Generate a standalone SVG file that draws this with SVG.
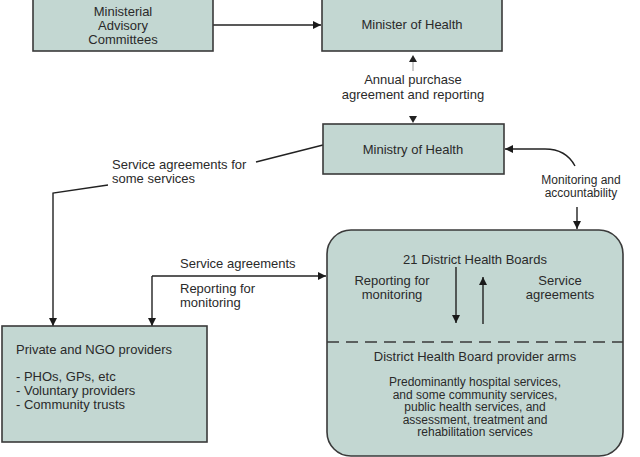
<svg xmlns="http://www.w3.org/2000/svg" width="640" height="457" viewBox="0 0 640 457">
<style>
.box{fill:#c3d7d2;stroke:#3a3a3a;stroke-width:1.6}
.t{font-family:"Liberation Sans",Arial,sans-serif;font-size:13px;fill:#2a2a2a}
.s{font-size:12px}
.c{text-anchor:middle}
.ln{fill:none;stroke:#222;stroke-width:1.4}
.lg{fill:none;stroke:#aaa;stroke-width:1.2}
</style>
<defs>
<marker id="ah" viewBox="0 0 10 10" refX="10" refY="5" markerWidth="8" markerHeight="8" markerUnits="userSpaceOnUse" orient="auto">
<path d="M0,0 L10,5 L0,10 z" fill="#1a1a1a"/>
</marker>
</defs>
<rect width="640" height="457" fill="#fff"/>
<g id="connectors">
<line class="ln" x1="213" y1="25" x2="321" y2="25" marker-end="url(#ah)"/>
<line class="lg" x1="413" y1="71" x2="413" y2="60"/>
<path d="M409,62 L413,55 L417,62 z" fill="#222"/>
<path d="M409,116 L413,123 L417,116 z" fill="#222"/>
<polyline class="ln" points="323,145 256,162"/>
<polyline class="ln" points="108,185 53,193 53,326" marker-end="url(#ah)"/>
<path class="ln" d="M575,166 Q566,149 545,149 L505,149" marker-end="url(#ah)"/>
<line class="ln" x1="577" y1="207" x2="577" y2="229" marker-end="url(#ah)"/>
<polyline class="ln" points="152,276 326,276" marker-end="url(#ah)"/>
<line class="ln" x1="152" y1="276" x2="152" y2="326" marker-end="url(#ah)"/>
<text class="t c" x="413" y="84">Annual purchase</text>
<text class="t c" x="413" y="99">agreement and reporting</text>
<text class="t" x="112" y="169">Service agreements for</text>
<text class="t" x="112" y="183">some services</text>
<text class="t s c" x="581" y="184">Monitoring and</text>
<text class="t s c" x="581" y="197">accountability</text>
<text class="t" x="180" y="268">Service agreements</text>
<text class="t" x="180" y="293">Reporting for</text>
<text class="t" x="180" y="307">monitoring</text>
</g>
<g id="ministerial">
<rect class="box" x="33" y="-2" width="180" height="53"/>
<text class="t c" x="123" y="16">Ministerial</text>
<text class="t c" x="123" y="30">Advisory</text>
<text class="t c" x="123" y="44">Committees</text>
</g>
<g id="minister">
<rect class="box" x="322" y="-2" width="180" height="53"/>
<text class="t c" x="412" y="29">Minister of Health</text>
</g>
<g id="ministry">
<rect class="box" x="323" y="124" width="181" height="50"/>
<text class="t c" x="413" y="154">Ministry of Health</text>
</g>
<g id="private">
<rect class="box" x="2" y="326" width="205" height="116"/>
<text class="t" x="16" y="354">Private and NGO providers</text>
<text class="t" x="16" y="381">- PHOs, GPs, etc</text>
<text class="t" x="16" y="395">- Voluntary providers</text>
<text class="t" x="16" y="409">- Community trusts</text>
</g>
<g id="dhb">
<rect class="box" x="327" y="230" width="296" height="226" rx="24" ry="24"/>
<line x1="327" y1="342" x2="623" y2="342" stroke="#3a3a3a" stroke-width="1.4" stroke-dasharray="12,7"/>
<text class="t c" x="475" y="264">21 District Health Boards</text>
<text class="t c" x="392" y="285">Reporting for</text>
<text class="t c" x="392" y="299">monitoring</text>
<text class="t c" x="560" y="285">Service</text>
<text class="t c" x="560" y="299">agreements</text>
<line class="ln" x1="456" y1="267" x2="456" y2="323" marker-end="url(#ah)"/>
<line class="ln" x1="483" y1="324" x2="483" y2="277" marker-end="url(#ah)"/>
<text class="t c" x="475" y="361">District Health Board provider arms</text>
<text class="t s c" x="475" y="386">Predominantly hospital services,</text>
<text class="t s c" x="475" y="398.5">and some community services,</text>
<text class="t s c" x="475" y="411">public health services, and</text>
<text class="t s c" x="475" y="423.5">assessment, treatment and</text>
<text class="t s c" x="475" y="436">rehabilitation services</text>
</g>
</svg>
